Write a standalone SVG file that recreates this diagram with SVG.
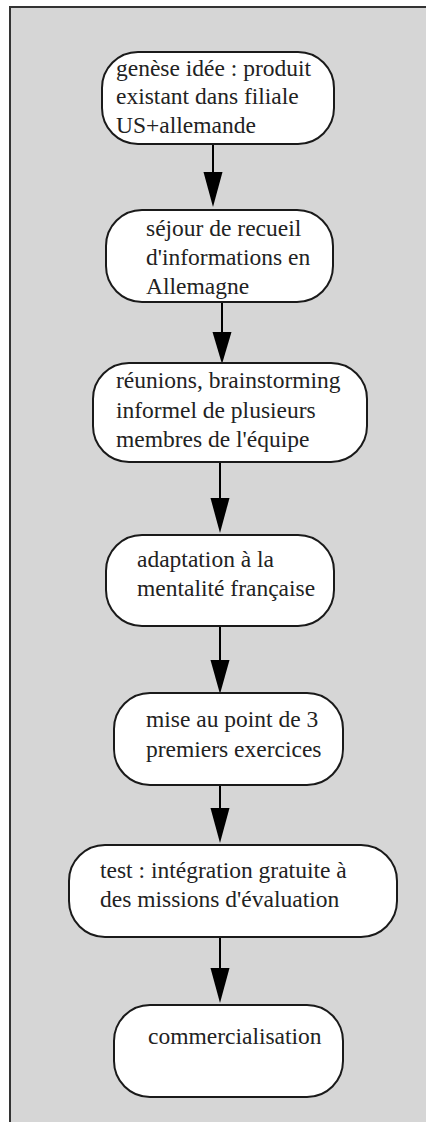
<svg xmlns="http://www.w3.org/2000/svg" width="426" height="1122" viewBox="0 0 426 1122">
<defs>
<style>
.node rect{fill:#fff;stroke:#1a1a1a;stroke-width:2}
.node text{font-family:"Liberation Serif","Times New Roman",serif;font-size:23.5px;fill:#222}
.edge{stroke:#000;stroke-width:2;fill:none}
.head{fill:#000}
</style>
</defs>
<rect x="10" y="7" width="430" height="1130" fill="#d6d6d6" stroke="#333" stroke-width="2"/>
<g id="connectors">
<line class="edge" x1="213" y1="144" x2="213" y2="172"/>
<path class="head" d="M203.5,172 L222.5,172 L213,207 Z"/>
<line class="edge" x1="222" y1="302" x2="222" y2="332"/>
<path class="head" d="M212.5,332 L231.5,332 L222,364 Z"/>
<line class="edge" x1="220" y1="462" x2="220" y2="498"/>
<path class="head" d="M210.5,498 L229.5,498 L220,533 Z"/>
<line class="edge" x1="220" y1="626" x2="220" y2="660"/>
<path class="head" d="M210.5,660 L229.5,660 L220,694 Z"/>
<line class="edge" x1="220" y1="785" x2="220" y2="808"/>
<path class="head" d="M210.5,808 L229.5,808 L220,843 Z"/>
<line class="edge" x1="220" y1="937" x2="220" y2="968"/>
<path class="head" d="M210.5,968 L229.5,968 L220,1003 Z"/>
</g>
<g id="n1" class="node">
<rect x="102" y="52" width="232" height="92" rx="36" ry="36"/>
<text x="116" y="76">genèse idée : produit</text>
<text x="116" y="104">existant dans filiale</text>
<text x="116" y="133">US+allemande</text>
</g>
<g id="n2" class="node">
<rect x="106" y="210" width="227" height="92" rx="36" ry="36"/>
<text x="146" y="236">séjour de recueil</text>
<text x="146" y="265">d'informations en</text>
<text x="146" y="294">Allemagne</text>
</g>
<g id="n3" class="node">
<rect x="93" y="363" width="274" height="99" rx="36" ry="36"/>
<text x="116" y="388">réunions, brainstorming</text>
<text x="116" y="418">informel de plusieurs</text>
<text x="116" y="447">membres de l'équipe</text>
</g>
<g id="n4" class="node">
<rect x="106" y="535" width="228" height="91" rx="36" ry="36"/>
<text x="137" y="567">adaptation à la</text>
<text x="137" y="596">mentalité française</text>
</g>
<g id="n5" class="node">
<rect x="114" y="693" width="229" height="92" rx="36" ry="36"/>
<text x="146" y="727">mise au point de 3</text>
<text x="146" y="757">premiers exercices</text>
</g>
<g id="n6" class="node">
<rect x="69" y="845" width="328" height="92" rx="36" ry="36"/>
<text x="100" y="878">test : intégration gratuite à</text>
<text x="100" y="907">des missions d'évaluation</text>
</g>
<g id="n7" class="node">
<rect x="114" y="1005" width="229" height="92" rx="36" ry="36"/>
<text x="148" y="1044">commercialisation</text>
</g>
</svg>
